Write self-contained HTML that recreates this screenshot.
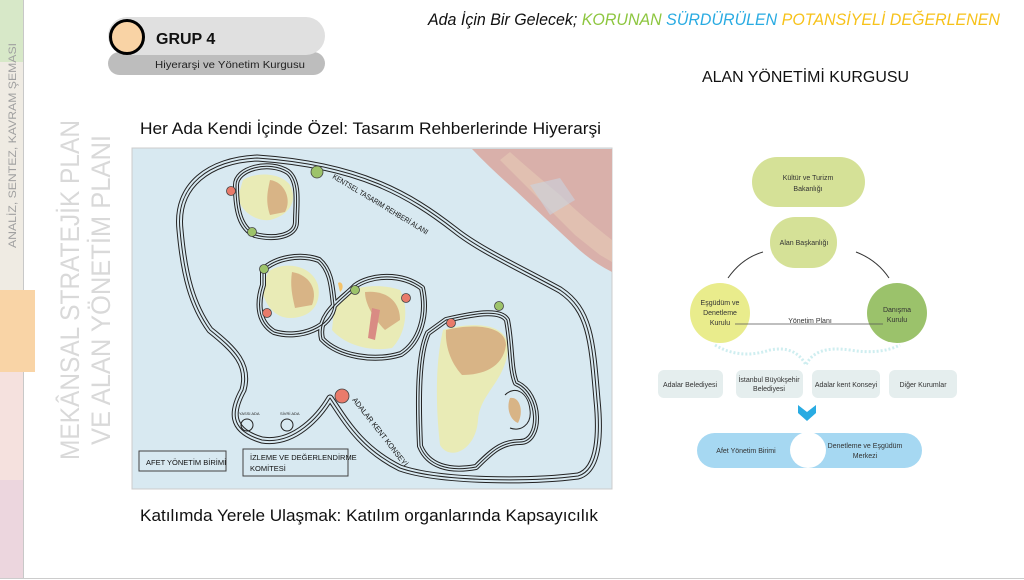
<!DOCTYPE html>
<html><head><meta charset="utf-8"><style>
html,body{margin:0;padding:0;background:#fff;}
svg{display:block;font-family:"Liberation Sans",sans-serif;}
</style></head><body>
<svg width="1024" height="580" viewBox="0 0 1024 580" xmlns="http://www.w3.org/2000/svg">
<defs>
<g id="loops">
<path d="M236,186 C235,168 270,160 288,172 C300,182 296,205 296,222 C296,236 275,240 255,235 C240,228 236,210 236,186Z"/>
<path d="M263,270 C275,258 300,253 319,260 C332,271 332,290 334,305 C332,327 300,340 274,332 C256,321 258,300 263,285Z"/>
<path d="M355,286 C370,275 401,272 422,288 C428,315 420,342 401,354 C375,362 339,357 322,339 C316,314 343,299 355,286Z"/>
<path d="M446,320 C480,312 501,310 507,320 C512,345 510,369 516,383 C542,394 542,442 520,442 C501,442 491,452 476,467 C449,472 428,466 420,446 C418,400 418,354 428,333Z"/>
</g>
<path id="outerp" d="M257,158 C210,160 175,185 180,230 C184,275 192,305 210,330 C235,350 250,365 243,390 C232,410 228,430 262,440 C295,445 320,415 330,398 C345,420 360,448 400,468 C440,482 530,482 578,476 C600,470 600,430 597,400 C592,340 590,310 560,290 C520,268 480,250 455,230 C410,195 360,165 257,158Z"/>
</defs>
<rect width="1024" height="580" fill="#fff"/>
<!-- left strip -->
<rect x="0" y="0" width="23" height="62" fill="#d7e8c8"/>
<rect x="0" y="62" width="23" height="228" fill="#efebe3"/>
<rect x="0" y="290" width="35" height="82" fill="#f9d4a6"/>
<rect x="0" y="372" width="23" height="108" fill="#f5e1de"/>
<rect x="0" y="480" width="23" height="98" fill="#ecd6de"/>
<line x1="23.5" y1="0" x2="23.5" y2="290" stroke="#c8c8c8"/>
<line x1="23.5" y1="372" x2="23.5" y2="578" stroke="#c8c8c8"/>
<text transform="translate(16,248) rotate(-90)" font-size="11" fill="#a0a0a0" textLength="205" lengthAdjust="spacingAndGlyphs">ANALİZ, SENTEZ, KAVRAM ŞEMASI</text>
<text transform="translate(79,460) rotate(-90)" font-size="27" fill="#d9d9d9" textLength="340" lengthAdjust="spacingAndGlyphs">MEKÂNSAL STRATEJİK PLAN</text>
<text transform="translate(110,445) rotate(-90)" font-size="27" fill="#d9d9d9" textLength="310" lengthAdjust="spacingAndGlyphs">VE ALAN YÖNETİM PLANI</text>

<!-- header pill -->
<rect x="108" y="52" width="217" height="23" rx="11.5" fill="#bdbdbd"/>
<rect x="108" y="17" width="217" height="38" rx="19" fill="#e0e0e0"/>
<circle cx="127" cy="37" r="16.5" fill="#f9d3a5" stroke="#000" stroke-width="3"/>
<text x="156" y="44" font-size="16" font-weight="bold" fill="#111">GRUP 4</text>
<text x="155" y="68" font-size="10" fill="#222" textLength="150" lengthAdjust="spacingAndGlyphs">Hiyerarşi ve Yönetim Kurgusu</text>

<!-- title -->
<text x="428" y="25" font-size="17" font-style="italic" textLength="572" lengthAdjust="spacingAndGlyphs"><tspan fill="#111">Ada İçin Bir Gelecek; </tspan><tspan fill="#8dc63f">KORUNAN </tspan><tspan fill="#29abe2">SÜRDÜRÜLEN </tspan><tspan fill="#f7c21a">POTANSİYELİ DEĞERLENEN</tspan></text>
<text x="702" y="82" font-size="16" fill="#111" textLength="207" lengthAdjust="spacingAndGlyphs">ALAN YÖNETİMİ KURGUSU</text>
<text x="140" y="134" font-size="17" fill="#111" textLength="461" lengthAdjust="spacingAndGlyphs">Her Ada Kendi İçinde Özel: Tasarım Rehberlerinde Hiyerarşi</text>
<text x="140" y="521" font-size="17" fill="#111" textLength="458" lengthAdjust="spacingAndGlyphs">Katılımda Yerele Ulaşmak: Katılım organlarında Kapsayıcılık</text>

<!-- map -->
<rect x="132" y="148" width="480" height="341" fill="#d8e9f1" stroke="#ccc"/>
<path d="M472,149 L612,149 L612,272 Q592,262 575,246 Q545,218 515,190 Q490,168 472,149Z" fill="#d9b0aa"/>
<path d="M500,160 Q540,200 575,235 L600,255 L612,262 L612,240 Q580,215 560,195 Q530,170 510,152Z" fill="#e6cbb5" opacity="0.6"/>
<path d="M530,185 L560,178 L575,200 L550,215Z" fill="#c9d3e0" opacity="0.6"/>
<!-- islands -->
<g>
<path d="M243,180 C255,172 280,172 290,185 C298,200 290,215 270,220 C255,222 240,210 238,197Z" fill="#e9ebb6"/>
<path d="M270,180 C285,182 292,200 285,212 L270,215 C265,200 268,190 270,180Z" fill="#d8b486"/>
<path d="M268,272 C280,262 310,262 318,285 C322,305 310,318 290,318 C275,318 265,305 262,290Z" fill="#e9ebb6"/>
<path d="M292,272 C310,275 318,290 312,305 L295,308 C292,295 290,285 292,272Z" fill="#d8b486"/>
<path d="M335,300 C350,285 380,283 400,290 C410,310 405,335 392,348 C370,352 345,345 332,330Z" fill="#e9ebb6"/>
<path d="M365,292 C385,290 400,300 400,320 L385,330 C375,320 365,305 365,292Z" fill="#d8b486"/>
<path d="M372,308 L380,310 L375,340 L368,338Z" fill="#d98b84"/>
<path d="M443,330 C470,322 505,322 508,345 C508,380 480,392 478,420 C476,450 450,462 440,445 C435,400 436,360 443,330Z" fill="#e9ebb6"/>
<path d="M446,330 C470,324 505,324 506,345 C503,368 482,375 462,375 C450,362 445,345 446,330Z" fill="#d8b486"/>
<path d="M510,398 C520,396 524,412 518,423 C510,420 506,408 510,398Z" fill="#d8b486"/>
<path d="M338,283 C342,280 345,288 340,292Z" fill="#f4c36b"/>
</g>
<!-- outer loop triple -->
<g fill="none" stroke-linejoin="round">
<use href="#outerp" stroke="#222" stroke-width="7"/>
<use href="#outerp" stroke="#d8e9f1" stroke-width="5"/>
<use href="#outerp" stroke="#222" stroke-width="1"/>
<use href="#loops" stroke="#222" stroke-width="6"/>
<use href="#loops" stroke="#d8e9f1" stroke-width="4"/>
<use href="#loops" stroke="#222" stroke-width="1"/>
<path d="M505,395 C515,385 528,392 530,410 C532,425 520,432 510,428" stroke="#222" stroke-width="1"/>
</g>
<g fill="none" stroke="#222" stroke-width="1">
<circle cx="247" cy="425" r="6"/>
<circle cx="287" cy="425" r="6"/>
</g>
<text x="239" y="415" font-size="4" fill="#222">YASSI ADA</text>
<text x="280" y="415" font-size="4" fill="#222">SİVRİ ADA</text>
<!-- markers -->
<g stroke="#444" stroke-width="0.8">
<circle cx="317" cy="172" r="6" fill="#9dc36a"/>
<circle cx="231" cy="191" r="4.5" fill="#e87a6a"/>
<circle cx="252" cy="232" r="4.5" fill="#9dc36a"/>
<circle cx="264" cy="269" r="4.5" fill="#9dc36a"/>
<circle cx="267" cy="313" r="4.5" fill="#e87a6a"/>
<circle cx="355" cy="290" r="4.5" fill="#9dc36a"/>
<circle cx="406" cy="298" r="4.5" fill="#e87a6a"/>
<circle cx="499" cy="306" r="4.5" fill="#9dc36a"/>
<circle cx="451" cy="323" r="4.5" fill="#e87a6a"/>
<circle cx="342" cy="396" r="7" fill="#ea7b6b"/>
</g>
<text transform="translate(332,178) rotate(31)" font-size="7.5" fill="#111" textLength="110" lengthAdjust="spacingAndGlyphs">KENTSEL TASARIM REHBERİ ALANI</text>
<text transform="translate(352,400) rotate(52)" font-size="7.5" fill="#111" textLength="85" lengthAdjust="spacingAndGlyphs">ADALAR KENT KONSEYİ</text>
<rect x="139" y="451" width="87" height="20" fill="none" stroke="#444"/>
<text x="146" y="465" font-size="7.5" fill="#111">AFET YÖNETİM BİRİMİ</text>
<rect x="243" y="449" width="105" height="27" fill="none" stroke="#444"/>
<text x="250" y="460" font-size="7.5" fill="#111">İZLEME VE DEĞERLENDİRME</text>
<text x="250" y="471" font-size="7.5" fill="#111">KOMİTESİ</text>

<!-- right diagram -->
<rect x="752" y="157" width="113" height="50" rx="25" fill="#d5e197"/>
<text x="808" y="180" font-size="7" text-anchor="middle" fill="#333">Kültür ve Turizm</text>
<text x="808" y="191" font-size="7" text-anchor="middle" fill="#333">Bakanlığı</text>
<rect x="770" y="217" width="67" height="51" rx="25" fill="#d5e197"/>
<text x="804" y="245" font-size="7" text-anchor="middle" fill="#333">Alan Başkanlığı</text>
<path d="M728,278 Q742,258 763,252" fill="none" stroke="#333" stroke-width="1"/>
<path d="M856,252 Q877,260 889,278" fill="none" stroke="#333" stroke-width="1"/>
<path d="M715,345 Q740,360 770,350 Q795,345 806,365 Q815,345 850,350 Q880,355 900,345" fill="none" stroke="#cfeef0" stroke-width="3" stroke-dasharray="2 2"/>
<circle cx="720" cy="313" r="30" fill="#e9ec8c"/>
<circle cx="897" cy="313" r="30" fill="#9bc26b"/>
<text x="720" y="305" font-size="7" text-anchor="middle" fill="#333">Eşgüdüm ve</text>
<text x="720" y="315" font-size="7" text-anchor="middle" fill="#333">Denetleme</text>
<text x="720" y="325" font-size="7" text-anchor="middle" fill="#333">Kurulu</text>
<text x="897" y="312" font-size="7" text-anchor="middle" fill="#333">Danışma</text>
<text x="897" y="322" font-size="7" text-anchor="middle" fill="#333">Kurulu</text>
<line x1="735" y1="324" x2="883" y2="324" stroke="#555" stroke-width="0.8"/>
<text x="810" y="323" font-size="7" text-anchor="middle" fill="#333">Yönetim Planı</text>
<g fill="#e5eeee">
<rect x="658" y="370" width="65" height="28" rx="6"/>
<rect x="736" y="370" width="67" height="28" rx="6"/>
<rect x="812" y="370" width="68" height="28" rx="6"/>
<rect x="889" y="370" width="68" height="28" rx="6"/>
</g>
<g font-size="7" text-anchor="middle" fill="#333">
<text x="690" y="387">Adalar Belediyesi</text>
<text x="769" y="382">İstanbul Büyükşehir</text>
<text x="769" y="391">Belediyesi</text>
<text x="846" y="387">Adalar kent Konseyi</text>
<text x="923" y="387">Diğer Kurumlar</text>
</g>
<path d="M798,405 L807,412 L816,405 L816,413 L807,421 L798,413Z" fill="#29abe2"/>
<rect x="697" y="433" width="225" height="35" rx="17.5" fill="#a6d8f2"/>
<circle cx="808" cy="450" r="18" fill="#fff"/>
<text x="746" y="453" font-size="7" text-anchor="middle" fill="#333">Afet Yönetim Birimi</text>
<text x="865" y="448" font-size="7" text-anchor="middle" fill="#333">Denetleme ve Eşgüdüm</text>
<text x="865" y="458" font-size="7" text-anchor="middle" fill="#333">Merkezi</text>
<line x1="0" y1="578.5" x2="1024" y2="578.5" stroke="#ccc"/>
</svg>
</body></html>
